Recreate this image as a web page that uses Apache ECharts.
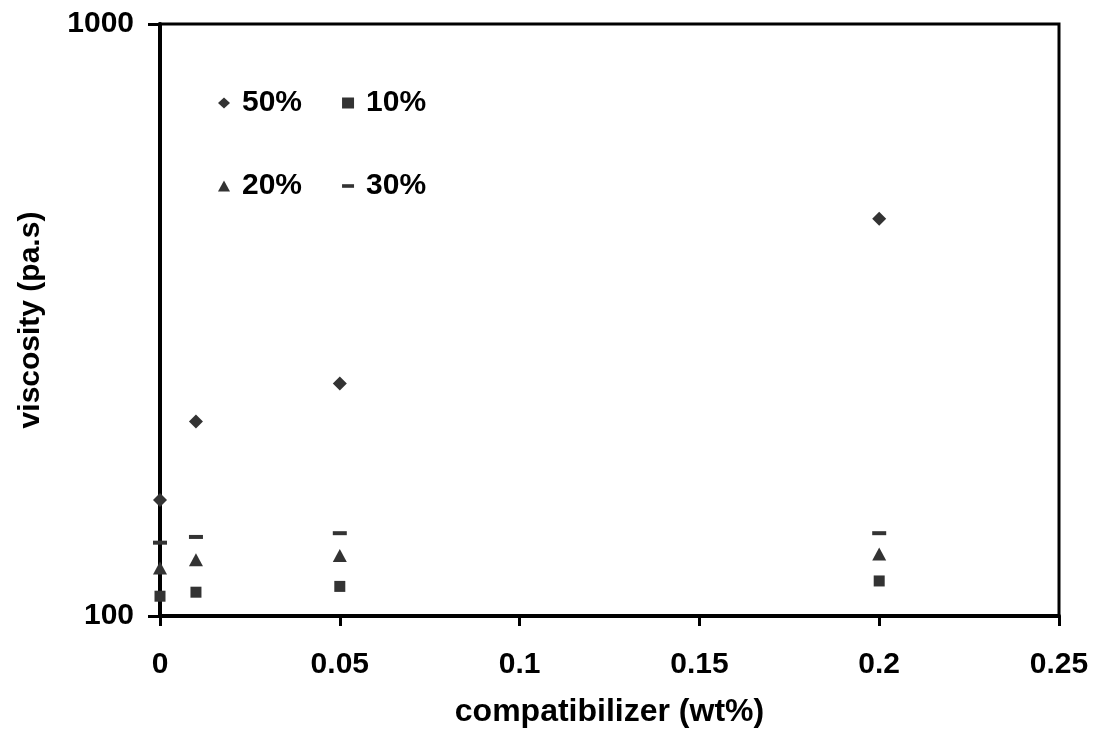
<!DOCTYPE html>
<html>
<head>
<meta charset="utf-8">
<script src="https://cdn.jsdelivr.net/npm/echarts@6/dist/echarts.min.js"></script>
<style>
html,body{margin:0;padding:0;background:#fff;}
#chart{width:1094px;height:733px;}
</style>
</head>
<body>
<div id="chart"></div>
<script>
// compatibilizer content (wt%)
var xValues = [0, 0.01, 0.05, 0.2];
// viscosity (pa.s) per blend composition
var s50 = [157, 213, 247, 469];
var s10 = [108, 109.7, 112.2, 114.6];
var s20 = [120.5, 124.4, 126.5, 127.3];
var s30 = [133, 136, 138, 138];
var xTicks = ['0', '0.05', '0.1', '0.15', '0.2', '0.25'];
var yTicks = ['100', '1000'];

function pts(ys) { return xValues.map(function (x, i) { return [x, ys[i]]; }); }

var FONT = '"Liberation Sans", Arial, sans-serif';
var MARK = '#333333';
var DASH = 'path://M0,0h10v3h-10z';
var legendText = { fontFamily: FONT, fontSize: 30, fontWeight: 'bold', color: '#000', padding: [0, 0, 0, 7] };

var chart = echarts.init(document.getElementById('chart'));
chart.setOption({
  animation: false,
  backgroundColor: '#ffffff',
  textStyle: { fontFamily: FONT },
  grid: { left: 160, right: 35, top: 24, bottom: 112, show: true, borderColor: '#000', borderWidth: 3, backgroundColor: 'transparent' },
  legend: [
    {
      data: [{ name: '50%', icon: 'diamond' }, { name: '10%', icon: 'rect' }],
      left: 218, top: 88, padding: 0, orient: 'horizontal', itemWidth: 12, itemHeight: 11, itemGap: 40,
      itemStyle: { opacity: 1 }, textStyle: legendText
    },
    {
      data: [{ name: '20%', icon: 'triangle' }, { name: '30%', icon: DASH }],
      left: 218, top: 171, padding: 0, orient: 'horizontal', itemWidth: 12, itemHeight: 11, itemGap: 40,
      itemStyle: { opacity: 1 }, textStyle: legendText
    }
  ],
  xAxis: {
    type: 'value', min: 0, max: 0.25, interval: 0.05,
    name: 'compatibilizer (wt%)', nameLocation: 'middle', nameGap: 80,
    nameTextStyle: { fontFamily: FONT, fontSize: 32, fontWeight: 'bold', color: '#000' },
    axisLine: { show: true, onZero: false, lineStyle: { color: '#000', width: 4 } },
    axisTick: { show: true, inside: false, length: 10, lineStyle: { color: '#000', width: 3 } },
    axisLabel: {
      margin: 34, fontFamily: FONT, fontSize: 30, fontWeight: 'bold', color: '#000',
      formatter: function (v) { var i = Math.round(v / 0.05); return xTicks[i] !== undefined ? xTicks[i] : ''; }
    },
    splitLine: { show: false }
  },
  yAxis: {
    type: 'log', logBase: 10, min: 100, max: 1000,
    name: 'viscosity (pa.s)', nameLocation: 'middle', nameGap: 114,
    nameTextStyle: { fontFamily: FONT, fontSize: 30, fontWeight: 'bold', color: '#000' },
    axisLine: { show: true, lineStyle: { color: '#000', width: 4 } },
    axisTick: { show: true, inside: false, length: 12, lineStyle: { color: '#000', width: 3 } },
    axisLabel: {
      margin: 26, fontFamily: FONT, fontSize: 30, fontWeight: 'bold', color: '#000',
      formatter: function (v) { var s = String(Math.round(v)); return yTicks.indexOf(s) >= 0 ? s : ''; }
    },
    splitLine: { show: false },
    minorTick: { show: false }
  },
  series: [
    { name: '50%', type: 'scatter', data: pts(s50), symbol: 'diamond', symbolSize: 14, itemStyle: { color: MARK, opacity: 1 }, z: 5 },
    { name: '10%', type: 'scatter', data: pts(s10), symbol: 'rect', symbolSize: 11, itemStyle: { color: MARK, opacity: 1 }, z: 5 },
    { name: '20%', type: 'scatter', data: pts(s20), symbol: 'triangle', symbolSize: [14, 13], itemStyle: { color: MARK, opacity: 1 }, z: 5 },
    { name: '30%', type: 'scatter', data: pts(s30), symbol: 'rect', symbolSize: [14, 4], itemStyle: { color: MARK, opacity: 1 }, z: 5 }
  ]
});
</script>
</body>
</html>
